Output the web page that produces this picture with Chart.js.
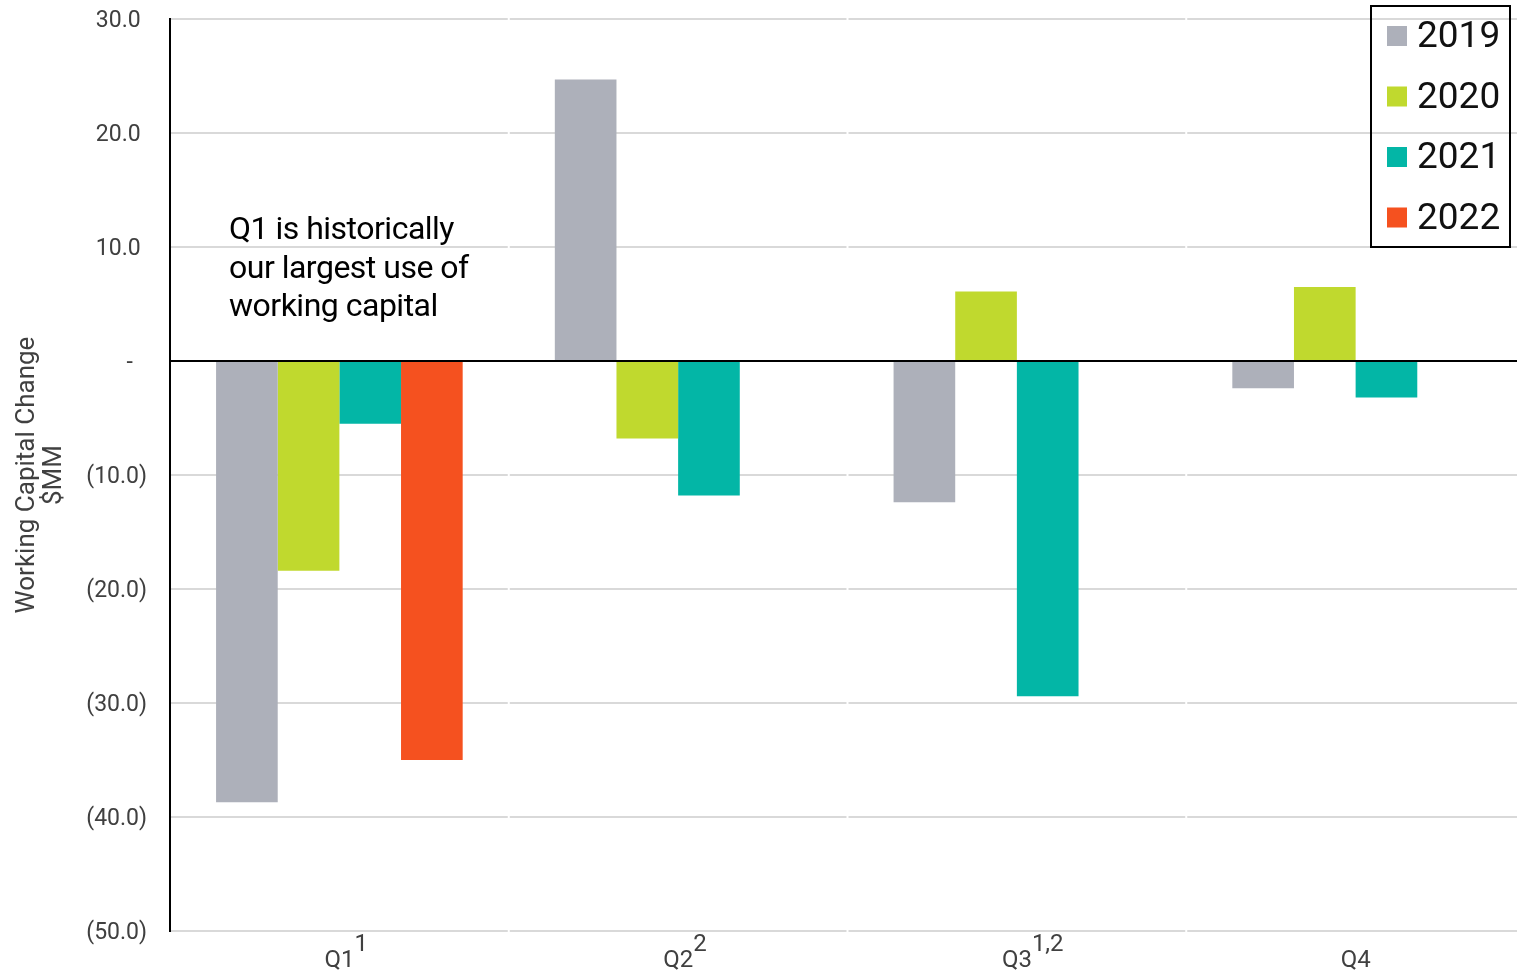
<!DOCTYPE html>
<html>
<head>
<meta charset="utf-8">
<title>Working Capital Change by Quarter</title>
<script src="https://cdn.jsdelivr.net/npm/chart.js@4.4.1/dist/chart.umd.min.js"></script>
<style>
  html, body { margin: 0; padding: 0; background: #fff; overflow: hidden; }
  #wrap { position: relative; width: 1525px; height: 976px; }
</style>
</head>
<body>
<div id="wrap"><canvas id="chart"></canvas></div>
<script>
// Quarterly working capital change, $MM
const quarters = ['Q1', 'Q2', 'Q3', 'Q4'];
const quarterNotes = ['1', '2', '1,2', ''];
const years = ['2019', '2020', '2021', '2022'];
const values2019 = [-38.7, 24.7, -12.4, -2.4];
const values2020 = [-18.4, -6.8, 6.1, 6.5];
const values2021 = [-5.5, -11.8, -29.4, -3.2];
const values2022 = [-35.0, null, null, null];
const yearColors = ['#ADB0BA', '#C0D92E', '#03B6A6', '#F5511F'];
const noteLines = ['Q1 is historically', 'our largest use of', 'working capital'];

const FONT = 'Roboto, "Open Sans", sans-serif';
const TEXT_GREY = '#404040';

// Accounting style: negatives in parentheses, zero as a dash,
// positives padded so the digits line up with the bracketed ones
function fmtTick(v) {
  if (v === 0) return '-\u2004\u2008';
  const s = Math.abs(v).toFixed(1);
  return v < 0 ? '(' + s + ')' : s + '\u2008';
}

// Small gaps in the horizontal gridlines at each quarter boundary
const gridBreaks = {
  id: 'gridBreaks',
  beforeDatasetsDraw(chart) {
    const { ctx, scales: { x, y } } = chart;
    ctx.save();
    ctx.fillStyle = '#fff';
    for (let i = 1; i < quarters.length; i++) {
      const bx = (x.getPixelForValue(i - 1) + x.getPixelForValue(i)) / 2;
      y.ticks.forEach(t => {
        if (t.value === 0) return;
        const py = y.getPixelForValue(t.value);
        ctx.fillRect(bx - 1, py - 2, 2, 4);
      });
    }
    ctx.restore();
  }
};

// Footnote markers, callout text and boxed legend
const extras = {
  id: 'extras',
  afterDraw(chart) {
    const { ctx, scales: { x } } = chart;
    ctx.save();

    // superscript notes after the quarter labels
    ctx.font = '24px ' + FONT;
    ctx.fillStyle = TEXT_GREY;
    ctx.textBaseline = 'alphabetic';
    quarters.forEach((q, i) => {
      if (!quarterNotes[i]) return;
      const cx = x.getPixelForValue(i);
      const w = ctx.measureText(q).width;
      ctx.textAlign = 'left';
      ctx.fillText(quarterNotes[i], cx + w / 2, 951);
    });

    // callout
    ctx.font = '32px ' + FONT;
    ctx.letterSpacing = '-0.5px';
    ctx.fillStyle = '#000';
    ctx.textAlign = 'left';
    noteLines.forEach((line, i) => {
      ctx.fillText(line, 229, 239 + i * 38.5);
    });
    ctx.letterSpacing = '0px';

    // legend box
    const bx = 1371, by = 6, bw = 139, bh = 241;
    ctx.strokeStyle = '#000';
    ctx.lineWidth = 2;
    ctx.strokeRect(bx, by, bw, bh);
    ctx.font = '37px ' + FONT;
    ctx.textBaseline = 'middle';
    chart.data.datasets.forEach((ds, i) => {
      const cy = 36 + i * 60.5;
      ctx.fillStyle = ds.backgroundColor;
      ctx.fillRect(1387, cy - 10, 20, 20);
      ctx.fillStyle = '#111';
      ctx.fillText(ds.label, 1417, cy + 2);
    });
    ctx.restore();
  }
};

const seriesValues = [values2019, values2020, values2021, values2022];

new Chart(document.getElementById('chart'), {
  type: 'bar',
  data: {
    labels: quarters,
    datasets: years.map((yr, i) => ({
      label: yr,
      data: seriesValues[i],
      backgroundColor: yearColors[i],
      borderWidth: 0,
      barPercentage: 1.0,
      categoryPercentage: 0.728
    }))
  },
  options: {
    responsive: true,
    maintainAspectRatio: false,
    animation: false,
    layout: { padding: { top: 19, right: 0, bottom: 0, left: 0 } },
    plugins: {
      legend: { display: false },
      tooltip: { enabled: false }
    },
    scales: {
      x: {
        grid: { display: false, drawTicks: false },
        border: { display: false },
        ticks: {
          color: TEXT_GREY,
          font: { family: FONT, size: 24 },
          padding: 16,
          maxRotation: 0
        },
        afterFit(scale) {
          scale.height = 45;
          scale.paddingLeft = 0;
          scale.paddingRight = 0;
        }
      },
      y: {
        min: -50,
        max: 30,
        grid: {
          drawTicks: false,
          color: ctx => (ctx.tick && ctx.tick.value === 0) ? '#000' : '#D9D9D9',
          lineWidth: 2
        },
        border: { display: true, color: '#000', width: 2 },
        ticks: {
          stepSize: 10,
          color: TEXT_GREY,
          font: { family: FONT, size: 23 },
          padding: 23,
          labelOffset: 2,
          callback: v => fmtTick(v)
        },
        title: {
          display: true,
          text: ['Working Capital Change', '$MM'],
          color: TEXT_GREY,
          font: { family: FONT, size: 26, lineHeight: 1.05 },
          padding: { top: 14, bottom: 0 }
        },
        afterFit(scale) {
          scale.width = 170;
          scale.paddingTop = 0;
          scale.paddingBottom = 0;
        }
      }
    }
  },
  plugins: [gridBreaks, extras]
});
</script>
</body>
</html>
